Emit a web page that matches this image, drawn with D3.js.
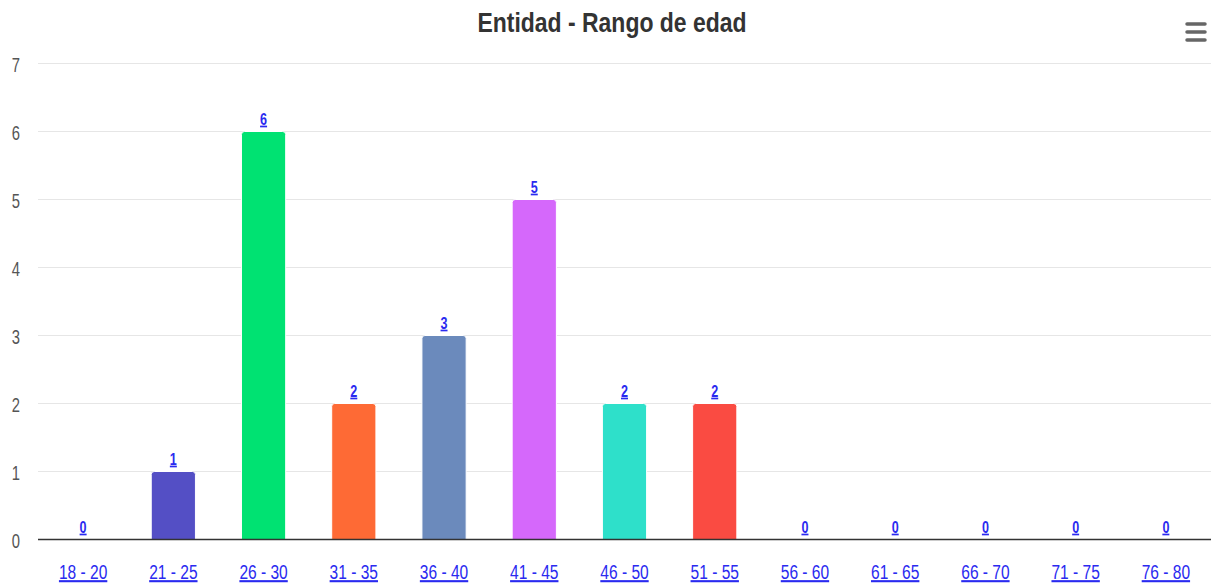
<!DOCTYPE html>
<html>
<head>
<meta charset="utf-8">
<script src="https://cdn.jsdelivr.net/npm/d3@7"></script>
<style>
  body { margin: 0; background: #fff; }
  svg { display: block; font-family: "Liberation Sans", Arial, sans-serif; }
</style>
</head>
<body>
<div id="chart"></div>
<script>
// age ranges and counts
const categories = ["18 - 20", "21 - 25", "26 - 30", "31 - 35", "36 - 40", "41 - 45", "46 - 50",
                    "51 - 55", "56 - 60", "61 - 65", "66 - 70", "71 - 75", "76 - 80"];
const values = [0, 1, 6, 2, 3, 5, 2, 2, 0, 0, 0, 0, 0];
const yTicks = [0, 1, 2, 3, 4, 5, 6, 7];
const palette = ["#2caffe", "#544fc5", "#00e272", "#fe6a35", "#6b8abc", "#d568fb",
                 "#2ee0ca", "#fa4b42", "#feb56a", "#91e8e1"];

const dims = {width: 1211, height: 586};
const plot = {left: 38, right: 1211, top: 63.5, bottom: 539.5};
const squeeze = 0.74;   // text in the picture is narrow

const svg = d3.select("#chart").append("svg")
    .attr("width", dims.width)
    .attr("height", dims.height);

const x = d3.scaleBand()
    .domain(categories)
    .range([plot.left, plot.right])
    .paddingInner(0.51)
    .paddingOuter(0.255);

const y = d3.scaleLinear()
    .domain([0, 7])
    .range([plot.bottom, plot.top]);

const color = d3.scaleOrdinal(palette).domain(categories);

// gridlines
svg.append("g").selectAll("line")
    .data(yTicks.filter(d => d > 0))
    .enter().append("line")
    .attr("x1", plot.left).attr("x2", plot.right)
    .attr("y1", d => y(d)).attr("y2", d => y(d))
    .attr("stroke", "#e6e6e6").attr("stroke-width", 1);

// y labels
svg.append("g").selectAll("text")
    .data(yTicks)
    .enter().append("text")
    .attr("transform", d => `translate(20, ${y(d) + 8}) scale(${squeeze},1)`)
    .attr("text-anchor", "end")
    .attr("fill", "#555")
    .style("font-size", "20px")
    .text(d => d);

// bars with rounded top corners
const r = 3;
const barPath = (d, i) => {
    const x0 = x(categories[i]), w = x.bandwidth();
    const top = y(d), bot = y(0);
    if (d === 0) return "";
    return `M${x0},${bot} L${x0},${top + r} Q${x0},${top} ${x0 + r},${top}
            L${x0 + w - r},${top} Q${x0 + w},${top} ${x0 + w},${top + r} L${x0 + w},${bot} Z`;
};

svg.append("g").selectAll("path")
    .data(values)
    .enter().append("path")
    .attr("d", barPath)
    .attr("fill", (d, i) => color(categories[i]))
    .attr("stroke", "#fff")
    .attr("stroke-width", 1);

// baseline
svg.append("line")
    .attr("x1", plot.left).attr("x2", plot.right)
    .attr("y1", y(0)).attr("y2", y(0))
    .attr("stroke", "#333").attr("stroke-width", 1.6);

// data labels
svg.append("g").selectAll("text")
    .data(values)
    .enter().append("text")
    .attr("transform", (d, i) => `translate(${x(categories[i]) + x.bandwidth() / 2}, ${y(d) - 7}) scale(${squeeze},1)`)
    .attr("text-anchor", "middle")
    .attr("fill", "#2a2af0")
    .style("font-size", "17px")
    .style("font-weight", "bold")
    .style("text-decoration", "underline")
    .text(d => d);

// x labels
svg.append("g").selectAll("text")
    .data(categories)
    .enter().append("text")
    .attr("transform", d => `translate(${x(d) + x.bandwidth() / 2}, 579) scale(${squeeze},1)`)
    .attr("text-anchor", "middle")
    .attr("fill", "#2a2af0")
    .style("font-size", "21px")
    .style("text-decoration", "underline")
    .text(d => d);

// title
svg.append("text")
    .attr("transform", "translate(612, 32) scale(0.82,1)")
    .attr("text-anchor", "middle")
    .attr("fill", "#333")
    .style("font-size", "28px")
    .style("font-weight", "bold")
    .text("Entidad - Rango de edad");

// menu icon
svg.append("g").selectAll("line")
    .data([24, 32, 40])
    .enter().append("line")
    .attr("x1", 1187).attr("x2", 1205)
    .attr("y1", d => d).attr("y2", d => d)
    .attr("stroke", "#666").attr("stroke-width", 3.5)
    .attr("stroke-linecap", "round");
</script>
</body>
</html>
